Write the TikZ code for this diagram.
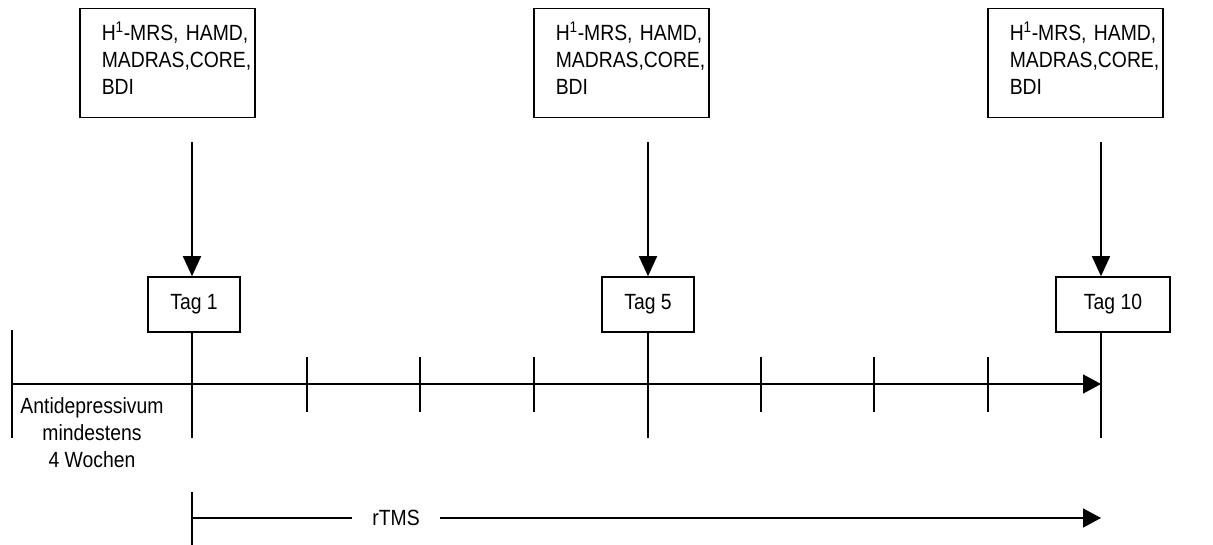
\documentclass[tikz,border=0pt]{standalone}
\usepackage{fontspec}
\setmainfont{Liberation Sans}[FakeStretch=0.88]
\usetikzlibrary{arrows.meta}

\newcommand{\ind}{\hspace*{22pt}}
\newcommand{\scalelist}{\ind H\textsuperscript{1}-MRS,~HAMD,\\\ind MADRAS,CORE,\\\ind BDI}

\begin{document}
\begin{tikzpicture}[
  x=1pt, y=-1pt,
  font=\fontsize{22}{27}\selectfont,
  line width=1.5pt,
  measure/.style={draw, anchor=north west, align=left, text width=175pt, inner xsep=0pt, minimum height=109pt, text depth=64pt},
  day/.style={draw, minimum width=92pt, minimum height=55pt},
  down/.style={-{Triangle[length=20pt, width=18pt]}},
  arr/.style={-{Triangle[length=18pt, width=19pt]}}
]
\useasboundingbox (0,0) rectangle (1213,545);

\node[measure] (m1) at (79,8) {\scalelist};
\node[measure] (m5) at (533,8) {\scalelist};
\node[measure] (m10) at (987,8) {\scalelist};

\node[day] (d1) at (194,304.5) {Tag 1};
\node[day] (d5) at (648,304.5) {Tag 5};
\node[day, minimum width=114pt] (d10) at (1113,304.5) {Tag 10};

\coordinate (a1) at (192,142);
\coordinate (a5) at (648,142);
\coordinate (a10) at (1101,142);
\coordinate (b1) at (192,438);
\coordinate (b5) at (648,438);
\coordinate (b10) at (1101,438);
\coordinate (t0) at (12,384);
\coordinate (tend) at (1101,384);

\draw[down] (a1) -- (a1 |- d1.north);
\draw[down] (a5) -- (a5 |- d5.north);
\draw[down] (a10) -- (a10 |- d10.north);
\draw (b1 |- d1.south) -- (b1);
\draw (b5 |- d5.south) -- (b5);
\draw (b10 |- d10.south) -- (b10);

\draw[arr] (t0) -- (tend);
\draw (12,330) -- (12,438);
\foreach \x in {307,420,534,761,874,988}
  \draw (\x,357) -- (\x,412);

\node[anchor=north, align=center] (ad) at (92,393) {Antidepressivum\\mindestens\\4 Wochen};

\coordinate (r0) at (192,518);
\coordinate (rend) at (1101,518);
\node[inner xsep=20pt] (rtms) at (396,518) {rTMS};
\draw (192,492) -- (192,545);
\draw (r0) -- (rtms.west);
\draw[arr] (rtms.east) -- (rend);
\end{tikzpicture}
\end{document}
